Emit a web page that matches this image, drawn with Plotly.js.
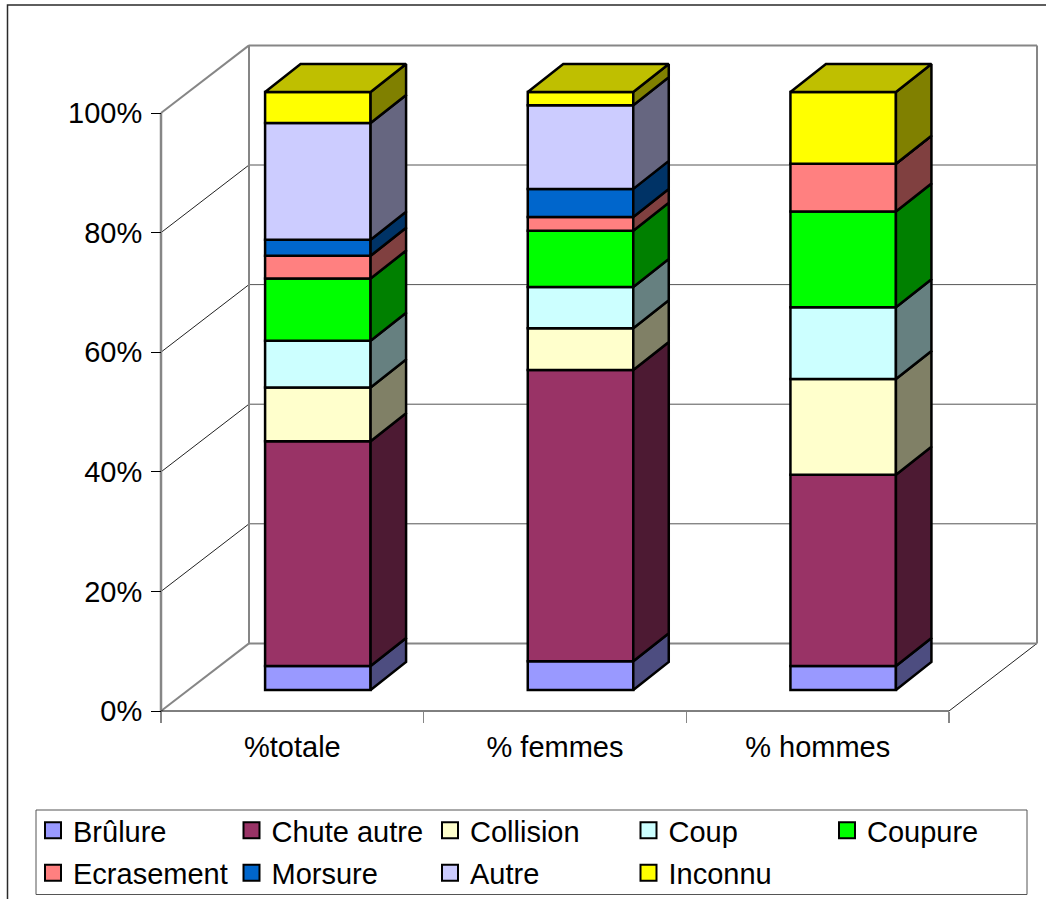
<!DOCTYPE html>
<html>
<head>
<meta charset="utf-8">
<script src="https://cdn.plot.ly/plotly-3.0.1.min.js"></script>
<style>html,body{margin:0;padding:0;background:#fff}#chart{width:1046px;height:899px}</style>
</head>
<body>
<div id="chart"></div>
<script>
// Stacked percentage columns with a drawn 3D box around them.
const categories = ['%totale', '% femmes', '% hommes'];
const seriesNames = ['Brûlure', 'Chute autre', 'Collision', 'Coup', 'Coupure', 'Ecrasement', 'Morsure', 'Autre', 'Inconnu'];
const seriesColors = ['#9999FF', '#993366', '#FFFFCC', '#CCFFFF', '#00FF00', '#FF8080', '#0066CC', '#CCCCFF', '#FFFF00'];
const brulure = [4.0, 4.8, 4.0];
const chuteAutre = [37.6, 48.7, 32.0];
const collision = [9.0, 7.0, 16.0];
const coup = [7.8, 6.9, 12.0];
const coupure = [10.4, 9.4, 16.0];
const ecrasement = [3.8, 2.3, 8.0];
const morsure = [2.7, 4.7, 0];
const autre = [19.5, 14.0, 0];
const inconnu = [5.2, 2.2, 12.0];
const seriesValues = [brulure, chuteAutre, collision, coup, coupure, ecrasement, morsure, autre, inconnu];
const yTicks = [0, 20, 40, 60, 80, 100];

// Scale of the layout: pixels per category and per percent, origin of the front plane.
const PX_CAT = 262.67, PX_PCT = 5.98;
const ORIGIN_X = 161, ORIGIN_Y = 711;
const PLOT_L = 155, PLOT_R = 1043, PLOT_T = 40, PLOT_B = 715;
const W = 1046, H = 899;

// Depth of the box and of the columns, in axis units.
const WALL_DX = 88 / PX_CAT, WALL_DY = 67.6 / PX_PCT;
const BAR_DX = 35.5 / PX_CAT, BAR_DY = 28 / PX_PCT;
const BAR_WIDTH = 105.5 / PX_CAT;
const BAR_SHIFT_X = 25.5 / PX_CAT, BAR_BASE = 21 / PX_PCT;

const paperX = px => (px - PLOT_L) / (PLOT_R - PLOT_L);
const paperY = py => (PLOT_B - py) / (PLOT_B - PLOT_T);

function shade(hex, f) {
  const n = parseInt(hex.slice(1), 16);
  const c = [n >> 16 & 255, n >> 8 & 255, n & 255].map(v => Math.round(v * f));
  return `rgb(${c.join(',')})`;
}

const centers = categories.map((_, i) => i + 0.5 + BAR_SHIFT_X);
const totals = categories.map(() => BAR_BASE);
const traces = [];
const sideTraces = [];
const EDGE = 2.5;

seriesNames.forEach((name, s) => {
  const values = seriesValues[s];
  const bases = totals.slice();
  traces.push({
    type: 'bar', x: centers, y: values, base: bases, width: BAR_WIDTH, name,
    marker: { color: seriesColors[s], line: { color: '#000', width: EDGE } }, showlegend: false, hoverinfo: 'skip'
  });
  // Right-hand face of each segment.
  const sx = [], sy = [];
  centers.forEach((c, i) => {
    const r = c + BAR_WIDTH / 2, b = bases[i], t = b + values[i];
    sx.push(r, r + BAR_DX, r + BAR_DX, r, r, null);
    sy.push(b, b + BAR_DY, t + BAR_DY, t, b, null);
    totals[i] = t;
  });
  sideTraces.push({
    type: 'scatter', mode: 'lines', x: sx, y: sy, fill: 'toself',
    fillcolor: shade(seriesColors[s], 0.5), line: { color: '#000', width: EDGE, simplify: false },
    showlegend: false, hoverinfo: 'skip', cliponaxis: false
  });
});

// Top face of each column, in the shade of the uppermost series.
const topX = [], topY = [];
centers.forEach((c, i) => {
  const l = c - BAR_WIDTH / 2, r = c + BAR_WIDTH / 2, t = totals[i];
  topX.push(l, r, r + BAR_DX, l + BAR_DX, l, null);
  topY.push(t, t, t + BAR_DY, t + BAR_DY, t, null);
});
const topTrace = {
  type: 'scatter', mode: 'lines', x: topX, y: topY, fill: 'toself',
  fillcolor: shade(seriesColors[8], 0.75), line: { color: '#000', width: EDGE, simplify: false },
  showlegend: false, hoverinfo: 'skip', cliponaxis: false
};

// Legend keys: five in the first row, the rest in the second.
const keyTraces = seriesNames.map((name, s) => ({
  type: 'scatter', mode: 'markers', x: [null], y: [null], name,
  legend: s < 5 ? 'legend' : 'legend2',
  marker: { symbol: 'square', size: 16, color: seriesColors[s], line: { color: '#000', width: 2 } },
  hoverinfo: 'skip'
}));

// Box walls, floor and gridlines.
const GREY = '#868686';
const line = (x0, y0, x1, y1, color, width) => ({
  type: 'line', xref: 'x', yref: 'y', layer: 'below', x0, y0, x1, y1,
  line: { color, width }
});
const N = categories.length;
const shapes = [];
yTicks.slice(1, -1).forEach(v => {
  shapes.push(line(0, v, WALL_DX, v + WALL_DY, '#222', 1));
  shapes.push(line(WALL_DX, v + WALL_DY, N + WALL_DX, v + WALL_DY, '#555', 1));
});
shapes.push(line(N, 0, N + WALL_DX, WALL_DY, '#222', 1));
shapes.push(line(0, 0, WALL_DX, WALL_DY, GREY, 2));
shapes.push(line(0, 100, WALL_DX, 100 + WALL_DY, GREY, 2));
shapes.push(line(0, 0, 0, 100, GREY, 2.5));
shapes.push(line(WALL_DX, WALL_DY, WALL_DX, 100 + WALL_DY, GREY, 2));
shapes.push(line(WALL_DX, 100 + WALL_DY, N + WALL_DX, 100 + WALL_DY, GREY, 2));
shapes.push(line(N + WALL_DX, WALL_DY, N + WALL_DX, 100 + WALL_DY, GREY, 2));
shapes.push(line(WALL_DX, WALL_DY, N + WALL_DX, WALL_DY, GREY, 2));
shapes.push(line(0, 0, N, 0, '#000', 1));

// Outer frame; its right and lower sides run past the page.
shapes.push({
  type: 'path', xref: 'paper', yref: 'paper', layer: 'below',
  path: `M${paperX(7.5)},${paperY(950)} L${paperX(7.5)},${paperY(5)} L${paperX(1100)},${paperY(5)}`,
  line: { color: '#2a2a2a', width: 1.5 }
});

// Legend frame.
shapes.push({
  type: 'rect', xref: 'paper', yref: 'paper', layer: 'below',
  x0: paperX(36), x1: paperX(1027), y0: paperY(810), y1: paperY(894.5),
  line: { color: '#555', width: 1 }, fillcolor: '#fff'
});

const FONT = { family: 'Liberation Sans, Arial, sans-serif', size: 29, color: '#000' };

const legendRow = py => ({
  orientation: 'h', xanchor: 'left', yanchor: 'top',
  x: paperX(33), y: paperY(py),
  entrywidth: 153.5, entrywidthmode: 'pixels', itemwidth: 30,
  borderwidth: 0, bgcolor: 'rgba(0,0,0,0)', font: FONT,
  itemclick: false, itemdoubleclick: false, traceorder: 'normal', itemsizing: 'trace'
});

const layout = {
  width: W, height: H,
  margin: { l: PLOT_L, r: W - PLOT_R, t: PLOT_T, b: H - PLOT_B, autoexpand: false },
  paper_bgcolor: '#fff', plot_bgcolor: 'rgba(0,0,0,0)',
  font: FONT, barmode: 'overlay', hovermode: false, shapes,
  xaxis: {
    range: [(PLOT_L - ORIGIN_X) / PX_CAT, (PLOT_R - ORIGIN_X) / PX_CAT],
    anchor: 'free', position: (PLOT_B - ORIGIN_Y) / (PLOT_B - PLOT_T),
    tickmode: 'array', tickvals: categories.map((_, i) => i + 0.5), ticktext: categories,
    ticks: '', ticklen: 0, ticklabelstandoff: 16, ticklabelshift: -2.5, showgrid: false, zeroline: false, showline: false,
    minor: { tickmode: 'array', tickvals: [0, 1, 2, 3], ticks: 'outside', ticklen: 11, tickwidth: 1.5, tickcolor: GREY, showgrid: false },
    tickfont: FONT, fixedrange: true
  },
  yaxis: {
    range: [(ORIGIN_Y - PLOT_B) / PX_PCT, (ORIGIN_Y - PLOT_T) / PX_PCT],
    anchor: 'free', position: (ORIGIN_X - PLOT_L) / (PLOT_R - PLOT_L),
    tickmode: 'array', tickvals: yTicks, ticktext: yTicks.map(v => v + '%'),
    ticks: 'outside', ticklen: 10, tickwidth: 1, tickcolor: '#000', ticklabelstandoff: 3, ticklabelshift: -1.5,
    showgrid: false, zeroline: false, showline: false, tickfont: FONT, fixedrange: true
  },
  legend: legendRow(805),
  legend2: legendRow(847.5)
};

Plotly.newPlot('chart', [...traces, ...sideTraces, topTrace, ...keyTraces], layout, { staticPlot: true, displayModeBar: false });
</script>
</body>
</html>
